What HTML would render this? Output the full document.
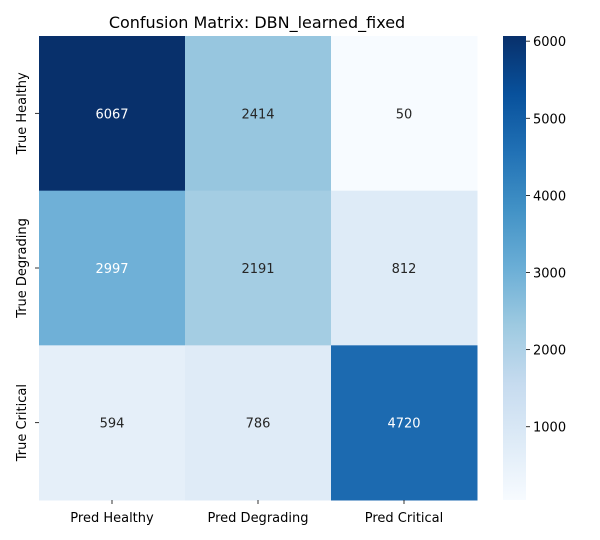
<!DOCTYPE html>
<html><head><meta charset="utf-8"><style>
body{margin:0;background:#fff;}
svg{display:block;font-family:"DejaVu Sans","Liberation Sans",sans-serif;}
</style></head><body>
<svg id="chart" width="600" height="540" viewBox="0 0 600 540">
<defs><linearGradient id="cbg" x1="0" y1="1" x2="0" y2="0"></linearGradient></defs>
<text x="257" y="28" text-anchor="middle" font-size="16" fill="#000">Confusion Matrix: DBN_learned_fixed</text>
<g id="cells"></g><g id="xt"></g><g id="yt"></g><g id="cb"></g>
</svg>
<script>
const rowLabels=["True Healthy","True Degrading","True Critical"];
const colLabels=["Pred Healthy","Pred Degrading","Pred Critical"];
const row0=[6067,2414,50];
const row1=[2997,2191,812];
const row2=[594,786,4720];
const cbTicks=[1000,2000,3000,4000,5000,6000];
const values=[row0,row1,row2];
const NS="http://www.w3.org/2000/svg";
const blues=["#f7fbff","#deebf7","#c6dbef","#9ecae1","#6baed6","#4292c6","#2171b5","#08519c","#08306b"];
const all=values.flat();const vmin=Math.min(...all),vmax=Math.max(...all);
const X0=39,X1=477,Y0=36,Y1=500;
const cw=(X1-X0)/colLabels.length,ch=(Y1-Y0)/rowLabels.length;
function hex(h){return [1,3,5].map(i=>parseInt(h.substr(i,2),16));}
function cmap(t){t=Math.max(0,Math.min(1,t));const p=t*(blues.length-1);const i=Math.min(Math.floor(p),blues.length-2);const f=p-i;const a=hex(blues[i]),b=hex(blues[i+1]);return a.map((v,k)=>Math.round(v+(b[k]-v)*f));}
function relLum(rgb){const l=rgb.map(v=>{v/=255;return v<=0.03928?v/12.92:Math.pow((v+0.055)/1.055,2.4);});return 0.2126*l[0]+0.7152*l[1]+0.0722*l[2];}
function mk(tag,attrs,parent){const e=document.createElementNS(NS,tag);for(const k in attrs)e.setAttribute(k,attrs[k]);parent.appendChild(e);return e;}
const cells=document.getElementById('cells');
values.forEach((row,r)=>row.forEach((v,c)=>{
 const t=(v-vmin)/(vmax-vmin);const rgb=cmap(t);
 const rc=mk('rect',{x:X0+c*cw,y:Y0+r*ch,width:cw+0.5,height:ch+0.5,fill:`rgb(${rgb})`},cells);
 
 
 const tx=mk('text',{x:X0+(c+0.5)*cw,y:Y0+(r+0.5)*ch+5,'text-anchor':'middle','font-size':13,fill:relLum(rgb)<0.408?'#fff':'#262626'},cells);
 tx.textContent=v;
 
 
}));
const xt=document.getElementById('xt');
colLabels.forEach((l,i)=>{const x=X0+(i+0.5)*cw;
 mk('line',{x1:x,x2:x,y1:Y1,y2:Y1+4,stroke:'#000','stroke-width':0.8},xt);
 const t=mk('text',{x:x,y:Y1+22,'text-anchor':'middle','font-size':13,fill:'#000'},xt);t.textContent=l;
 
 });
const yt=document.getElementById('yt');
rowLabels.forEach((l,i)=>{const y=Y0+(i+0.5)*ch;
 mk('line',{x1:X0-4,x2:X0,y1:y,y2:y,stroke:'#000','stroke-width':0.8},yt);
 const t=mk('text',{x:0,y:0,'text-anchor':'middle','font-size':13,fill:'#000',transform:`translate(26,${y}) rotate(-90)`},yt);t.textContent=l;
 
 });
const g=document.getElementById('cbg');
blues.forEach((c,i)=>mk('stop',{offset:(i/(blues.length-1)),'stop-color':c},g));
const cb=document.getElementById('cb');
const CX=503,CW=23;
const bar=mk('rect',{x:CX,y:Y0,width:CW,height:Y1-Y0,fill:'url(#cbg)'},cb);


cbTicks.forEach(v=>{const y=Y1-(v-vmin)/(vmax-vmin)*(Y1-Y0);
 mk('line',{x1:CX+CW,x2:CX+CW+4,y1:y,y2:y,stroke:'#000','stroke-width':0.8},cb);
 const t=mk('text',{x:CX+CW+7,y:y+5,'font-size':13,fill:'#000'},cb);t.textContent=v;
 
 });
</script>
</body></html>
